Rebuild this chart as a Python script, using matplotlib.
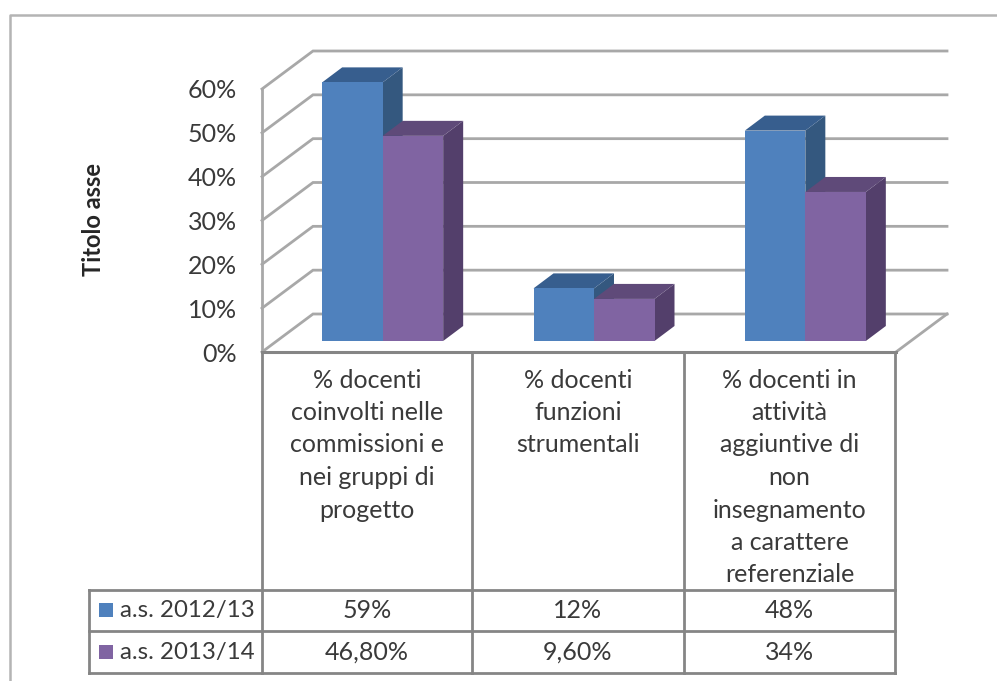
import matplotlib
matplotlib.use("Agg")
import matplotlib.pyplot as plt
from matplotlib.patches import Polygon, Rectangle

plt.rcParams['font.family'] = ['Lato', 'DejaVu Sans']

categories = ["% docenti\ncoinvolti nelle\ncommissioni e\nnei gruppi di\nprogetto",
              "% docenti\nfunzioni\nstrumentali",
              "% docenti in\nattività\naggiuntive di\nnon\ninsegnamento\na carattere\nreferenziale"]
series_names = ["a.s. 2012/13", "a.s. 2013/14"]
values_2012 = [59, 12, 48]
values_2013 = [46.8, 9.6, 34]
labels_2012 = ["59%", "12%", "48%"]
labels_2013 = ["46,80%", "9,60%", "34%"]
yticks = [0, 10, 20, 30, 40, 50, 60]
ytick_labels = ["0%", "10%", "20%", "30%", "40%", "50%", "60%"]

W, H = 997, 681
X0, X1, Y0, Y60 = 262, 896, 352, 89
PX = (X1 - X0) / 3
PY = (Y0 - Y60) / 60
TXT = '#3a3a3a'
GRID = '#a8a8a8'
LINE = '#858585'

fig = plt.figure(figsize=(W / 100, H / 100), dpi=100, facecolor='white')
ax = fig.add_axes([X0 / W, 1 - Y0 / H, (X1 - X0) / W, (Y0 - Y60) / H])
ax.set_xlim(0, 3)
ax.set_ylim(0, 60)
ax.patch.set_visible(False)
for s in ax.spines.values():
    s.set_visible(False)
ax.set_xticks([])
ax.set_yticks(yticks)
ax.set_yticklabels(ytick_labels, fontsize=18, color=TXT)
ax.tick_params(axis='y', length=0, pad=18)


def fx(px):
    return (px - X0) / PX


def fy(py):
    return (Y0 - py) / PY


# wall depth
DX, DY = 51 / PX, 38 / PY
for t in yticks:
    ax.plot([0, DX, 3 + DX], [t, t + DY, t + DY], color=GRID, lw=2, clip_on=False, zorder=1,
            solid_joinstyle='miter')
ax.plot([3, 3 + DX], [0, DY], color=GRID, lw=2, clip_on=False, zorder=1)
ax.plot([0, 0], [0, 60], color=GRID, lw=2, clip_on=False, zorder=1)

# bars
BW = 60.5 / PX
BDX, BDY = 20 / PX, 15 / PY
BASE = 11 / PY
SHIFT = 15 / PX
series = [(values_2012, '#4F81BD', '#34587F', '#375E8E', -1),
          (values_2013, '#8064A2', '#533F6B', '#5F4A79', 0)]
for vals, front, side, top, off in series:
    for i, v in enumerate(vals):
        x = i + 0.5 + SHIFT + off * BW
        h = v + BASE
        ax.add_patch(Polygon([(x + BW, BASE), (x + BW + BDX, BASE + BDY), (x + BW + BDX, h + BDY), (x + BW, h)],
                             fc=side, ec='none', clip_on=False, zorder=3 + off))
        ax.add_patch(Polygon([(x, h), (x + BDX, h + BDY), (x + BW + BDX, h + BDY), (x + BW, h)],
                             fc=top, ec='none', clip_on=False, zorder=3 + off))
        ax.bar(x, v, BW, bottom=BASE, align='edge', color=front, clip_on=False, zorder=4 + off)

# axis title
ax.text(fx(93), fy(220), "Titolo asse", rotation=90, ha='center', va='center',
        fontsize=17, fontweight='bold', color='#262626', clip_on=False)

# data table
ROWS = [590, 631, 673]
COLS = [262, 472, 684, 895]
ax.plot([0, 3], [0, 0], color=LINE, lw=2.2, clip_on=False, zorder=2)
for c in COLS:
    ax.plot([fx(c)] * 2, [0, fy(ROWS[-1])], color=LINE, lw=2, clip_on=False, zorder=2)
ax.plot([fx(89)] * 2, [fy(ROWS[0]), fy(ROWS[-1])], color=LINE, lw=2, clip_on=False, zorder=2)
for r in ROWS:
    ax.plot([fx(89), fx(COLS[-1])], [fy(r)] * 2, color=LINE, lw=2, clip_on=False, zorder=2)

for i, cat in enumerate(categories):
    xc = fx((COLS[i] + COLS[i + 1]) / 2)
    for j, line in enumerate(cat.split("\n")):
        ax.text(xc, fy(380 + 32.5 * j), line, ha='center', va='center', fontsize=18, color=TXT)
    ax.text(xc, fy(610), labels_2012[i], ha='center', va='center', fontsize=18, color=TXT)
    ax.text(xc, fy(652), labels_2013[i], ha='center', va='center', fontsize=18, color=TXT)

for name, yc, col in zip(series_names, [610, 652], ['#4F81BD', '#8064A2']):
    ax.add_patch(Rectangle((fx(99), fy(yc + 7)), 14 / PX, 14 / PY, fc=col, ec='none', clip_on=False))
    ax.text(fx(120), fy(yc), name, ha='left', va='center', fontsize=17.3, color=TXT)

# outer frame of the screenshot
ax.plot([fx(10), fx(10), fx(W)], [fy(H), fy(15), fy(15)], color='#b4b4b4', lw=1.8, clip_on=False, zorder=0)

fig.savefig("out.png", dpi=100, facecolor='white')
